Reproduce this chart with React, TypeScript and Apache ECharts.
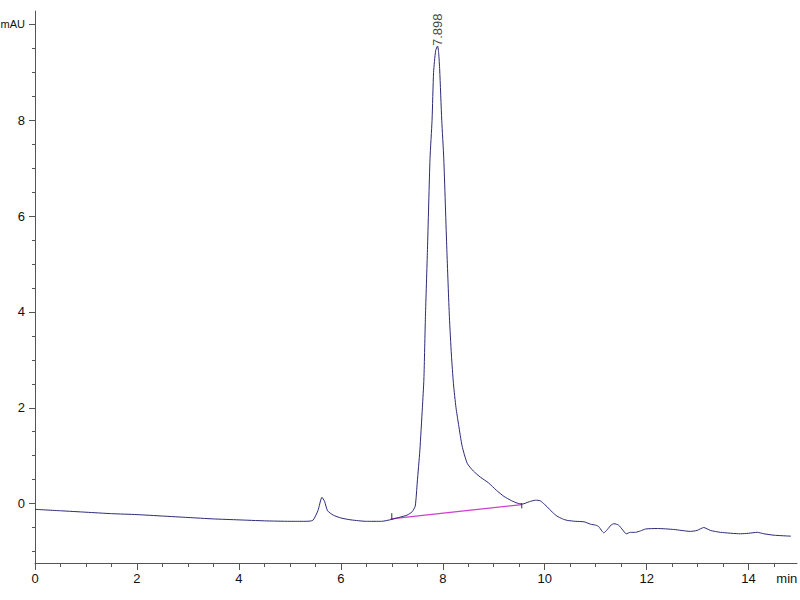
import React, { useEffect, useRef } from "react";
import * as echarts from "echarts";

const traceTimes = [
  0.0, 0.5, 1.0, 1.5, 2.0, 2.5, 3.0, 3.5, 4.0, 4.5, 5.0, 5.3, 5.45, 5.55, 5.63, 5.68, 5.74, 5.85,
  6.0, 6.2, 6.5, 6.8, 7.0, 7.17, 7.3, 7.4, 7.46, 7.5, 7.55, 7.6, 7.63, 7.66, 7.7, 7.75, 7.79, 7.82,
  7.86, 7.898, 7.92, 7.94, 7.98, 8.02, 8.08, 8.13, 8.17, 8.21, 8.26, 8.31, 8.38, 8.48, 8.6, 8.74,
  8.9, 9.05, 9.2, 9.35, 9.46, 9.56, 9.7, 9.82, 9.91, 10.0, 10.05, 10.15, 10.24, 10.35, 10.44, 10.6,
  10.77, 10.9, 11.0, 11.06, 11.12, 11.16, 11.23, 11.3, 11.36, 11.45, 11.53, 11.6, 11.68, 11.78,
  11.88, 11.98, 12.21, 12.53, 12.86, 12.99, 13.12, 13.25, 13.45, 13.84, 14.0, 14.17, 14.3, 14.5, 14.83,
];
const traceValues = [
  -0.12, -0.15, -0.18, -0.21, -0.23, -0.26, -0.29, -0.32, -0.34, -0.36, -0.37, -0.37, -0.35, -0.15,
  0.13, 0.05, -0.15, -0.24, -0.3, -0.34, -0.37, -0.37, -0.33, -0.28, -0.24, -0.17, -0.05, 0.45, 1.1,
  2.0, 2.6, 3.9, 5.3, 7.2, 8.0, 9.0, 9.45, 9.55, 9.4, 9.05, 8.0, 7.2, 5.3, 3.9, 3.1, 2.5, 2.0, 1.65,
  1.2, 0.84, 0.68, 0.55, 0.43, 0.28, 0.15, 0.06, 0.01, -0.01, 0.04, 0.07, 0.06, -0.02, -0.07, -0.18,
  -0.26, -0.32, -0.35, -0.37, -0.38, -0.43, -0.45, -0.48, -0.57, -0.61, -0.54, -0.45, -0.42, -0.45,
  -0.55, -0.63, -0.6, -0.6, -0.57, -0.53, -0.52, -0.54, -0.58, -0.56, -0.5, -0.56, -0.6, -0.63,
  -0.62, -0.6, -0.63, -0.66, -0.68,
];

const baselineTimes = [6.98, 9.55];
const baselineValues = [-0.32, -0.02];
const startMarkTimes = [7.0, 7.0];
const startMarkValues = [-0.2, -0.34];
const endMarkTimes = [9.55, 9.55];
const endMarkValues = [0.01, -0.1];

const peakTime = 7.898;
const peakValue = 9.55;
const peakLabel = "7.898";

const xMajorTicks = [0, 2, 4, 6, 8, 10, 12, 14];
const xMinorTicks = [0.5, 1, 1.5, 2.5, 3, 3.5, 4.5, 5, 5.5, 6.5, 7, 7.5, 8.5, 9, 9.5, 10.5, 11, 11.5, 12.5, 13, 13.5, 14.5];
const xUnitPos = 14.75;
const xUnitLabel = "min";
const yMajorTicks = [0, 2, 4, 6, 8, 10];
const yMinorTicks = [-1, -0.5, 0.5, 1, 1.5, 2.5, 3, 3.5, 4.5, 5, 5.5, 6.5, 7, 7.5, 8.5, 9, 9.5];
const yUnitPos = 10;
const yUnitLabel = "mAU";

const FONT = "'Liberation Sans', Arial, sans-serif";
const AXIS_COLOR = "#555555";

export default function App() {
  const ref = useRef<HTMLDivElement>(null);
  useEffect(() => {
    if (!ref.current) return;
    const chart = echarts.init(ref.current, undefined, { renderer: "svg" });
    const trace = traceTimes.map((t, i) => [t, traceValues[i]]);
    const baseline = baselineTimes.map((t, i) => [t, baselineValues[i]]);
    const startMark = startMarkTimes.map((t, i) => [t, startMarkValues[i]]);
    const endMark = endMarkTimes.map((t, i) => [t, endMarkValues[i]]);
    const xMin = 0, xMax = 14.95, yMin = -1.24, yMax = 10.28;
    chart.setOption({
      animation: false,
      backgroundColor: "#ffffff",
      grid: { left: 35, top: 11, width: 762, height: 552, containLabel: false, outerBoundsMode: "none" },
      xAxis: [
        {
          type: "value", min: xMin, max: xMax, position: "bottom",
          axisLine: { show: true, onZero: false, lineStyle: { color: AXIS_COLOR, width: 1 } },
          axisTick: { show: true, customValues: xMajorTicks, length: 7, lineStyle: { color: AXIS_COLOR } },
          axisLabel: {
            show: true, customValues: [...xMajorTicks, xUnitPos], margin: 9,
            color: "#111111", fontSize: 13, fontFamily: FONT,
            formatter: (v: number) => (v === xUnitPos ? xUnitLabel : String(v)),
          },
          splitLine: { show: false },
        },
        {
          type: "value", min: xMin, max: xMax, position: "bottom", gridIndex: 0,
          axisLine: { show: false, onZero: false },
          axisTick: { show: true, customValues: xMinorTicks, length: 4, lineStyle: { color: AXIS_COLOR } },
          axisLabel: { show: false },
          splitLine: { show: false },
        },
      ],
      yAxis: [
        {
          type: "value", min: yMin, max: yMax, position: "left",
          axisLine: { show: true, onZero: false, lineStyle: { color: AXIS_COLOR, width: 1 } },
          axisTick: { show: true, customValues: yMajorTicks, length: 6, lineStyle: { color: AXIS_COLOR } },
          axisLabel: {
            show: true, customValues: yMajorTicks, margin: 10,
            color: "#111111", fontSize: 13, fontFamily: FONT,
            formatter: (v: number) => (v === yUnitPos ? "{u|" + yUnitLabel + "}" : String(v)),
            rich: { u: { fontSize: 11, fontFamily: FONT, color: "#111111" } },
          },
          splitLine: { show: false },
        },
        {
          type: "value", min: yMin, max: yMax, position: "left", gridIndex: 0,
          axisLine: { show: false, onZero: false },
          axisTick: { show: true, customValues: yMinorTicks, length: 3, lineStyle: { color: AXIS_COLOR } },
          axisLabel: { show: false },
          splitLine: { show: false },
        },
      ],
      series: [
        {
          type: "line", xAxisIndex: 0, yAxisIndex: 0, data: trace, showSymbol: false, smooth: 0.2,
          lineStyle: { color: "#2a2a78", width: 1 }, z: 3,
        },
        {
          type: "line", xAxisIndex: 0, yAxisIndex: 0, data: baseline, showSymbol: false,
          lineStyle: { color: "#d040d0", width: 1.3 }, z: 2,
        },
        {
          type: "line", xAxisIndex: 0, yAxisIndex: 0, data: startMark, showSymbol: false,
          lineStyle: { color: "#333333", width: 1 }, z: 4,
        },
        {
          type: "line", xAxisIndex: 0, yAxisIndex: 0, data: endMark, showSymbol: false,
          lineStyle: { color: "#333333", width: 1 }, z: 4,
        },
        {
          type: "scatter", xAxisIndex: 0, yAxisIndex: 0, data: [[peakTime, peakValue]], symbolSize: 0,
          label: {
            show: true, position: "top", distance: 0, rotate: 90, align: "left", verticalAlign: "middle",
            formatter: () => peakLabel, color: "#111111", fontSize: 13, fontFamily: FONT,
          },
          z: 5,
        },
      ],
    });
    return () => chart.dispose();
  }, []);
  return (
    <div
      ref={ref}
      style={{ position: "fixed", left: 0, top: 0, width: 800, height: 600, background: "#fff" }}
    />
  );
}
